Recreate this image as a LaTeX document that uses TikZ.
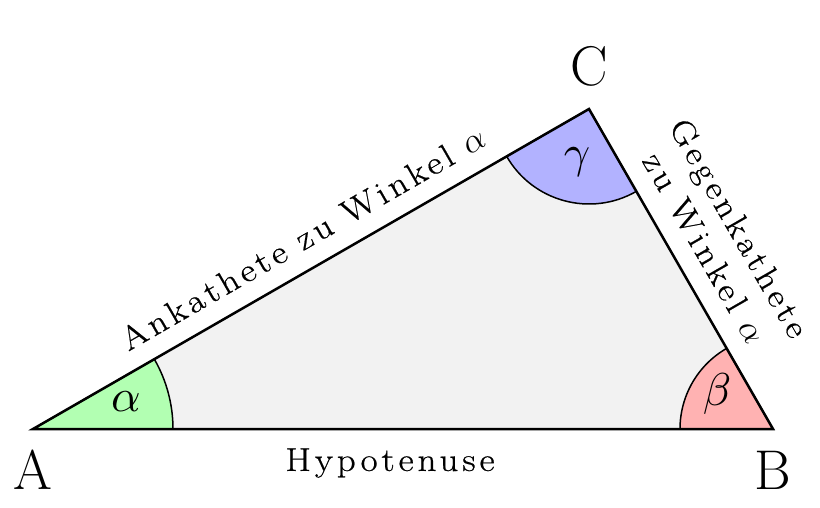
\documentclass[tikz,border=0pt]{standalone}
\usepackage{fontspec}
\usepackage{graphicx}
\newfontfamily\spfont{Latin Modern Roman}[LetterSpace=12,FakeStretch=1.12,FakeBold=0.6]
\begin{document}
\begin{tikzpicture}[x=1pt,y=-1pt,
  lbl/.style={font=\spfont\fontsize{33}{40}\selectfont},
  big/.style={font=\fontsize{56}{60}\selectfont}]
\useasboundingbox (0,0) rectangle (820,508);
\coordinate (A) at (33,429);
\coordinate (B) at (773,429);
\coordinate (C) at (589,109);
\fill[gray!10] (A)--(B)--(C)--cycle;
\fill[green!30, draw=black, line width=1.5] (A) -- ++(140,0) arc[start angle=0,end angle=-29.92,radius=140] -- cycle;
\fill[red!30, draw=black, line width=1.5] (B) -- ++(-93,0) arc[start angle=180,end angle=240.1,radius=93] -- cycle;
\path (C) ++(60.1:95) coordinate (g1);
\fill[blue!30, draw=black, line width=1.5] (C) -- (g1) arc[start angle=60.1,end angle=150.08,radius=95] -- cycle;
\draw[line width=2.5, line join=miter] (A)--(B)--(C)--cycle;
\node[big] (la) at (33,470) {A};
\node[big] (lb) at (773,470) {B};
\node[big] (lc) at (589,66) {C};
\node (al) at (126,402) {\scalebox{4.6}{$\alpha$}};
\node (be) at (717,394) {\scalebox{4.6}{$\beta$}};
\node (ga) at (577,162) {\scalebox{4.6}{$\gamma$}};
\node[lbl] (hyp) at (390,463) {Hypotenuse};
\node[lbl, rotate=29.92] (ank) at (303,238) {Ankathete zu Winkel \scalebox{1.4}{$\alpha$}};
\node[lbl, rotate=-60.1, align=center, inner sep=0pt] (geg) at (722,238) {Gegenkathete\\zu Winkel \scalebox{1.4}{$\alpha$}};
\end{tikzpicture}
\end{document}
